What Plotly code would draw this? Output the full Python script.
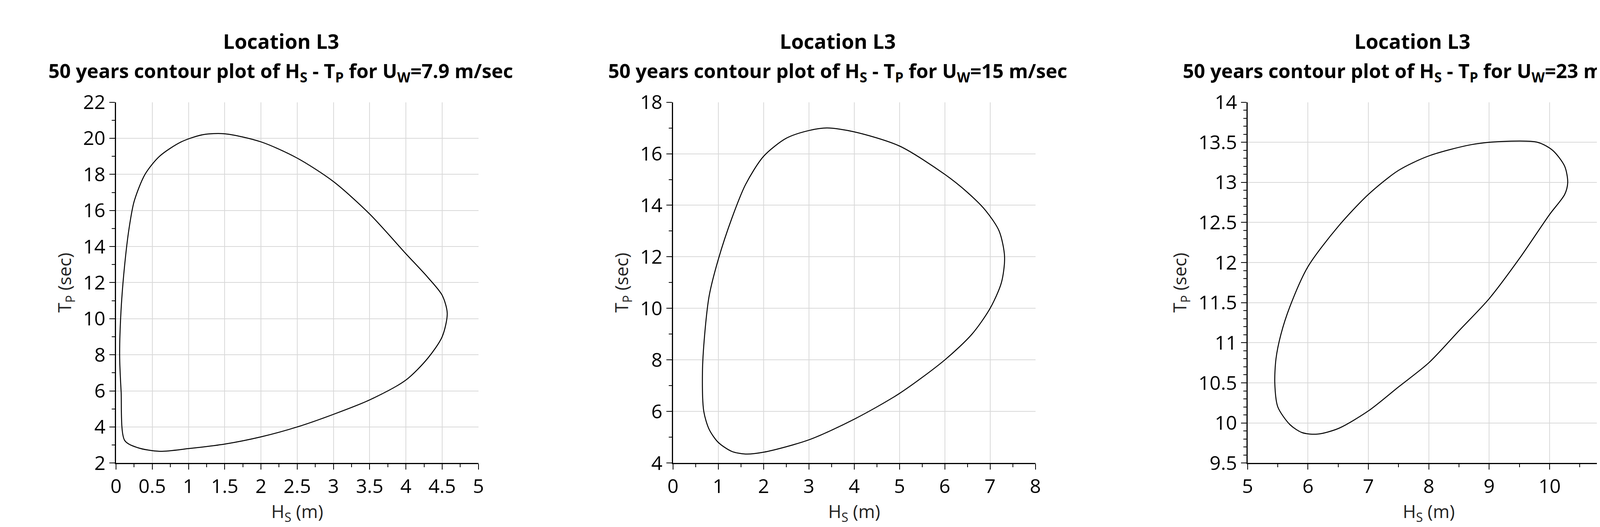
import plotly.graph_objects as go

hs1 = [0.12,0.3,0.6,1.0,1.5,2.0,2.5,3.0,3.5,4.0,4.3,4.5,4.57,4.5,4.3,4.0,3.5,3.0,2.5,2.0,1.5,1.2,0.9,0.6,0.4,0.25,0.18,0.12,0.07,0.05,0.07,0.12]
tp1 = [3.25,2.85,2.65,2.8,3.05,3.45,4.0,4.7,5.5,6.6,7.8,9.0,10.3,11.3,12.3,13.6,15.8,17.6,18.9,19.8,20.25,20.2,19.8,19.0,18.0,16.5,15.0,13.0,10.5,8.0,6.0,3.25]
hs2 = [1.6,2.0,3.0,4.0,5.0,6.0,6.6,7.0,7.25,7.32,7.2,6.9,6.5,6.0,5.0,4.0,3.4,3.0,2.5,2.0,1.6,1.3,1.0,0.8,0.7,0.65,0.68,0.8,1.0,1.3,1.6]
tp2 = [4.35,4.42,4.9,5.7,6.7,8.0,9.0,10.0,11.0,12.0,13.0,13.8,14.5,15.2,16.3,16.85,17.0,16.9,16.6,15.9,14.8,13.5,11.9,10.5,9.0,7.5,6.0,5.3,4.8,4.45,4.35]
hs3 = [6.15,6.5,7.0,7.5,8.0,8.5,9.0,9.5,10.0,10.25,10.3,10.25,10.05,9.8,9.2,8.7,8.0,7.5,7.0,6.5,6.0,5.7,5.55,5.47,5.45,5.5,5.7,5.9,6.15]
tp3 = [9.86,9.93,10.15,10.45,10.75,11.15,11.55,12.05,12.6,12.85,13.0,13.2,13.4,13.5,13.51,13.47,13.33,13.15,12.85,12.45,11.95,11.45,11.1,10.8,10.5,10.2,9.98,9.88,9.86]
uw = ["7.9", "15", "23"]
xranges = [[0, 5], [0, 8], [5, 11]]
yranges = [[2, 22], [4, 18], [9.5, 14]]
xdtick = [0.5, 1, 1]
ydtick = [2, 2, 0.5]
xminor = [0.25, 0.5, 0.5]
yminor = [1, 1, 0.1]

FONT = "Open Sans"
domains = [[0.0658, 0.2878], [0.407, 0.629], [0.759, 0.981]]
fig = go.Figure()
for i, (hs, tp) in enumerate([(hs1, tp1), (hs2, tp2), (hs3, tp3)]):
    n = "" if i == 0 else str(i + 1)
    fig.add_trace(go.Scatter(x=hs, y=tp, mode="lines", line=dict(color="black", width=2.5, shape="spline", smoothing=0.8),
                             xaxis="x" + n, yaxis="y" + n, showlegend=False))
    ax = dict(showgrid=True, gridcolor="#d9d9d9", gridwidth=2, showline=True, linecolor="black", linewidth=3,
              ticks="outside", ticklen=14, tickwidth=2, tickcolor="black", zeroline=False,
              tickfont=dict(family=FONT, size=50, color="black"))
    fig.layout["xaxis" + n] = dict(ax, domain=domains[i], range=xranges[i], dtick=xdtick[i], anchor="y" + n,
                                   minor=dict(ticks="outside", ticklen=8, tickcolor="black", showgrid=False, dtick=xminor[i]),
                                   title=dict(text="H<sub>S</sub> (m)", font=dict(family=FONT, size=46, color="#222"), standoff=12))
    fig.layout["yaxis" + n] = dict(ax, domain=[0.109, 0.8295], range=yranges[i], dtick=ydtick[i], anchor="x" + n,
                                   minor=dict(ticks="outside", ticklen=8, tickcolor="black", showgrid=False, dtick=yminor[i]),
                                   title=dict(text="T<sub>P</sub> (sec)", font=dict(family=FONT, size=46, color="#222"), standoff=16))
    cx = sum(domains[i]) / 2 - 0.01
    fig.add_annotation(x=cx, y=1 - 65 / 1349, xref="paper", yref="paper", showarrow=False, xanchor="center", yanchor="middle",
                       text="<b>Location L3</b>", font=dict(family=FONT, size=52, color="black"))
    fig.add_annotation(x=cx, y=1 - 148 / 1349, xref="paper", yref="paper", showarrow=False, xanchor="center", yanchor="middle",
                       text="<b>50 years contour plot of H<sub>S</sub> - T<sub>P</sub> for U<sub>W</sub>=%s m/sec</b>" % uw[i],
                       font=dict(family=FONT, size=50, color="black"))

fig.update_layout(width=4222, height=1349, margin=dict(l=0, r=0, t=0, b=0),
                  paper_bgcolor="white", plot_bgcolor="white")
fig.write_html("out.html")
